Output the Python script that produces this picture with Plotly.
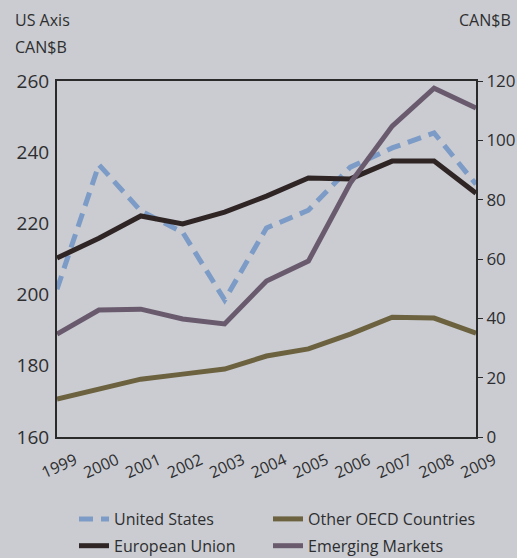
import plotly.graph_objects as go

years = ["1999", "2000", "2001", "2002", "2003", "2004", "2005", "2006", "2007", "2008", "2009"]
us = [201.5, 236.5, 223.5, 217.5, 198.5, 218.7, 223.7, 235.8, 241.2, 245.4, 231.0]
eu = [60.3, 67.0, 74.5, 71.8, 75.8, 81.2, 87.3, 87.0, 93.0, 93.0, 82.2]
oecd = [12.8, 16.2, 19.5, 21.2, 22.9, 27.3, 29.7, 34.7, 40.4, 40.1, 35.0]
emerging = [34.7, 42.8, 43.1, 39.8, 38.1, 52.6, 59.3, 85.6, 104.8, 117.6, 110.9]
left_ticks = [160, 180, 200, 220, 240, 260]
right_ticks = [0, 20, 40, 60, 80, 100, 120]

FONT = "Open Sans"
TXT = "#2e2e30"
BG = "#caccd1"

W, H = 517, 558
ML, MR, MT, MB = 57, 41, 81, 121
pw = W - ML - MR
ph = H - MT - MB


def px(x):
    return (x - ML) / pw


def py(y):
    return (H - MB - y) / ph


fig = go.Figure()
fig.add_trace(go.Scatter(x=years, y=us, name="United States", mode="lines",
                         line=dict(color="#7c9bc6", width=5, dash="14px,8px"), yaxis="y",
                         legend="legend", legendgroup="a"))
fig.add_trace(go.Scatter(x=years, y=eu, name="European Union", mode="lines",
                         line=dict(color="#2f2525", width=5), yaxis="y2",
                         legend="legend", legendgroup="b"))
fig.add_trace(go.Scatter(x=years, y=oecd, name="Other OECD Countries", mode="lines",
                         line=dict(color="#6c6240", width=5), yaxis="y2",
                         legend="legend2", legendgroup="c"))
fig.add_trace(go.Scatter(x=years, y=emerging, name="Emerging Markets", mode="lines",
                         line=dict(color="#6a5a6e", width=5), yaxis="y2",
                         legend="legend2", legendgroup="d"))

legend_common = dict(orientation="v", xanchor="left", yanchor="top",
                     bgcolor="rgba(0,0,0,0)", font=dict(size=16, color=TXT),
                     itemwidth=30, tracegroupgap=3)

fig.update_layout(
    width=W, height=H,
    paper_bgcolor=BG, plot_bgcolor=BG,
    margin=dict(l=ML, r=MR, t=MT, b=MB, autoexpand=False),
    font=dict(family=FONT, size=15, color=TXT),
    showlegend=True,
    legend=dict(x=px(74), y=py(502), **legend_common),
    legend2=dict(x=px(268), y=py(502), **legend_common),
    xaxis=dict(type="category", range=[0, 10], showgrid=False, showline=True,
               linecolor="#2a2a2a", linewidth=2, mirror=True, ticks="",
               tickangle=-24, tickfont=dict(size=16, color=TXT), zeroline=False,
               ticklabelshift=18, ticklabelstandoff=6),
    yaxis=dict(range=[160, 260], tickvals=left_ticks, showgrid=False, showline=True,
               linecolor="#2a2a2a", linewidth=2, ticks="", zeroline=False,
               tickfont=dict(size=19, color=TXT), ticklabelstandoff=2),
    yaxis2=dict(range=[0, 120], tickvals=right_ticks, overlaying="y", side="right",
                showgrid=False, showline=True, linecolor="#2a2a2a", linewidth=2,
                ticks="outside", ticklen=5, tickcolor="#2a2a2a", zeroline=False,
                tickfont=dict(size=17, color=TXT)),
)
fig.add_annotation(text="US Axis", x=px(13), y=py(20), xref="paper", yref="paper",
                   showarrow=False, xanchor="left", yanchor="middle",
                   font=dict(size=16, color=TXT))
fig.add_annotation(text="CAN$B", x=px(13), y=py(47), xref="paper", yref="paper",
                   showarrow=False, xanchor="left", yanchor="middle",
                   font=dict(size=16, color=TXT))
fig.add_annotation(text="CAN$B", x=px(513), y=py(20), xref="paper", yref="paper",
                   showarrow=False, xanchor="right", yanchor="middle",
                   font=dict(size=16, color=TXT))

fig.write_html(
    "out.html",
    config={"displayModeBar": False},
    post_script="document.body.style.margin='0';document.body.style.overflow='hidden';"
                "document.documentElement.style.overflow='hidden';",
)
